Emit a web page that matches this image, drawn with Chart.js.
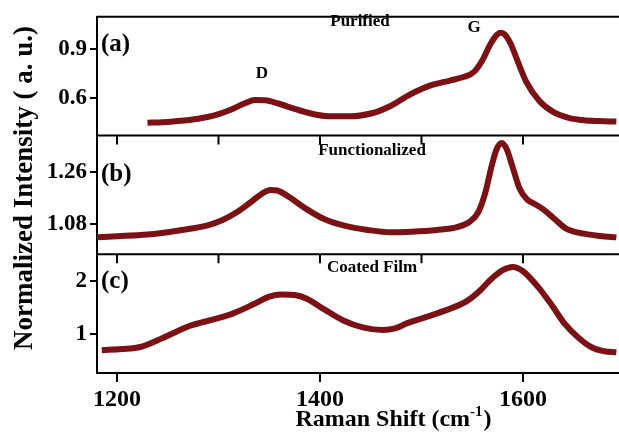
<!DOCTYPE html>
<html>
<head>
<meta charset="utf-8">
<script src="https://cdn.jsdelivr.net/npm/chart.js@4.4.1/dist/chart.umd.min.js"></script>
<style>
  html, body { margin: 0; padding: 0; background: #fff; overflow: hidden; }
  canvas { display: block; }
</style>
</head>
<body>
<canvas id="chart" width="619" height="433"></canvas>
<script>
// Raman spectra, 3 panels
const xA = [1230, 1245, 1260, 1280, 1296, 1312, 1326, 1336, 1346, 1358, 1375, 1392, 1408, 1430, 1452, 1470, 1489, 1509, 1528, 1542, 1552, 1560, 1568, 1574, 1578, 1582, 1588, 1595, 1603, 1616, 1630, 1645, 1660, 1675, 1692];
const yA = [0.445, 0.448, 0.455, 0.47, 0.49, 0.525, 0.565, 0.585, 0.583, 0.565, 0.53, 0.5, 0.485, 0.485, 0.505, 0.55, 0.62, 0.675, 0.705, 0.728, 0.76, 0.83, 0.93, 0.985, 1.0, 0.99, 0.93, 0.82, 0.7, 0.58, 0.51, 0.475, 0.46, 0.455, 0.452];

const xB = [1180, 1200, 1223, 1250, 1272, 1290, 1304, 1318, 1331, 1342, 1351, 1358, 1370, 1385, 1403, 1425, 1447, 1469, 1490, 1515, 1535, 1548, 1556, 1563, 1569, 1574, 1579, 1584, 1590, 1597, 1604, 1612, 1620, 1630, 1643, 1660, 1676, 1692];
const yB = [1.032, 1.036, 1.04, 1.05, 1.062, 1.075, 1.093, 1.12, 1.153, 1.183, 1.198, 1.196, 1.172, 1.135, 1.098, 1.072, 1.058, 1.05, 1.052, 1.058, 1.068, 1.088, 1.12, 1.19, 1.28, 1.34, 1.362, 1.34, 1.275, 1.2, 1.165, 1.148, 1.13, 1.1, 1.062, 1.045, 1.037, 1.032];

const xC = [1185, 1205, 1223, 1245, 1272, 1295, 1314, 1335, 1350, 1362, 1375, 1387, 1405, 1423, 1442, 1462, 1474, 1486, 1505, 1525, 1545, 1558, 1568, 1580, 1590, 1600, 1615, 1628, 1641, 1655, 1668, 1680, 1692];
const yC = [0.69, 0.71, 0.75, 0.92, 1.15, 1.27, 1.38, 1.56, 1.7, 1.74, 1.73, 1.66, 1.45, 1.25, 1.12, 1.07, 1.1, 1.2, 1.32, 1.45, 1.62, 1.82, 2.02, 2.2, 2.26, 2.18, 1.88, 1.55, 1.19, 0.92, 0.74, 0.67, 0.65];

const ticksA = [0.6, 0.9];
const ticksB = [1.08, 1.26];
const ticksC = [1, 2];
const xTicks = [1200, 1400, 1600];
const innerTicks = [1200, 1300, 1400, 1500, 1600, 1700];

const lineColor = "#7b1114";
const serif = "'Liberation Serif', 'Times New Roman', serif";

function pts(xs, ys) {
  return xs.map((x, i) => ({ x: x, y: ys[i] }));
}

function ds(xs, ys, axis) {
  return {
    data: pts(xs, ys),
    yAxisID: axis,
    borderColor: lineColor,
    borderWidth: 6,
    pointRadius: 0,
    tension: 0.4,
    cubicInterpolationMode: "monotone",
    fill: false
  };
}

function yScale(min, max, ticks) {
  return {
    type: "linear",
    position: "left",
    stack: "panels",
    stackWeight: 1,
    min: min,
    max: max,
    afterBuildTicks: s => { s.ticks = ticks.map(v => ({ value: v })); },
    afterFit: s => { s.width = 97; },
    border: { display: true, color: "#000", width: 2 },
    grid: { drawOnChartArea: false, color: "#000", lineWidth: 2, tickLength: 7 },
    ticks: {
      color: "#000",
      padding: 3,
      font: { family: serif, size: 23, weight: "bold" },
      callback: v => String(v)
    }
  };
}

// frame, inner ticks and labels
const decor = {
  id: "decor",
  afterDraw(c) {
    const ctx = c.ctx;
    const a = c.chartArea;
    const sx = c.scales.x;
    const bA = c.scales.yA.bottom;
    const bB = c.scales.yB.bottom;
    ctx.save();
    ctx.strokeStyle = "#000";
    ctx.lineWidth = 2;
    ctx.beginPath();
    [a.top, bA, bB].forEach(y => { ctx.moveTo(a.left, y); ctx.lineTo(a.right, y); });
    [bA, bB].forEach(y => {
      innerTicks.forEach(v => {
        const px = sx.getPixelForValue(v);
        ctx.moveTo(px, y); ctx.lineTo(px, y + 9);
      });
    });
    ctx.stroke();

    ctx.fillStyle = "#000";
    ctx.textAlign = "left";
    ctx.textBaseline = "middle";
    ctx.font = "bold 25px " + serif;
    ctx.fillText("(a)", 101, 45);
    ctx.fillText("(b)", 101, 175);
    ctx.fillText("(c)", 101, 282);

    ctx.textAlign = "center";
    ctx.font = "bold 17px " + serif;
    ctx.fillText("Purified", 360, 22);
    ctx.fillText("Functionalized", 372, 151);
    ctx.fillText("Coated Film", 372, 268);
    ctx.fillText("D", 262, 74);
    ctx.fillText("G", 474, 28);

    // y title
    ctx.save();
    ctx.translate(25, 188);
    ctx.rotate(-Math.PI / 2);
    ctx.font = "bold 27px " + serif;
    ctx.fillText("Normalized Intensity ( a. u.)", 0, 0);
    ctx.restore();

    // x title with superscript
    ctx.textAlign = "left";
    ctx.textBaseline = "alphabetic";
    const big = "bold 24px " + serif;
    const small = "bold 15px " + serif;
    const p1 = "Raman Shift (cm", p2 = "-1", p3 = ")";
    ctx.font = big; const w1 = ctx.measureText(p1).width; const w3 = ctx.measureText(p3).width;
    ctx.font = small; const w2 = ctx.measureText(p2).width;
    let x0 = 393 - (w1 + w2 + w3) / 2;
    const base = 426;
    ctx.font = big; ctx.fillText(p1, x0, base);
    ctx.font = small; ctx.fillText(p2, x0 + w1, base - 10);
    ctx.font = big; ctx.fillText(p3, x0 + w1 + w2 + 1, base);
    ctx.restore();
  }
};

new Chart(document.getElementById("chart"), {
  type: "line",
  data: {
    datasets: [ds(xA, yA, "yA"), ds(xB, yB, "yB"), ds(xC, yC, "yC")]
  },
  options: {
    responsive: false,
    animation: false,
    layout: { padding: { top: 10, left: 0, right: 0, bottom: 0 } },
    plugins: { legend: { display: false }, tooltip: { enabled: false } },
    scales: {
      x: {
        type: "linear",
        min: 1180.3,
        max: 1694.6,
        afterBuildTicks: s => { s.ticks = xTicks.map(v => ({ value: v })); },
        afterFit: s => { s.height = 60; },
        border: { display: true, color: "#000", width: 2 },
        grid: { drawOnChartArea: false, color: "#000", lineWidth: 2, tickLength: 9 },
        ticks: {
          color: "#000",
          padding: 3,
          maxRotation: 0,
          font: { family: serif, size: 24, weight: "bold" },
          callback: v => String(v)
        }
      },
      // stacked axes are laid out bottom-up, so the lowest panel comes first
      yC: yScale(0.259, 2.5, ticksC),
      yB: yScale(0.973, 1.388, ticksB),
      yA: yScale(0.366, 1.098, ticksA)
    }
  },
  plugins: [decor]
});
</script>
</body>
</html>
